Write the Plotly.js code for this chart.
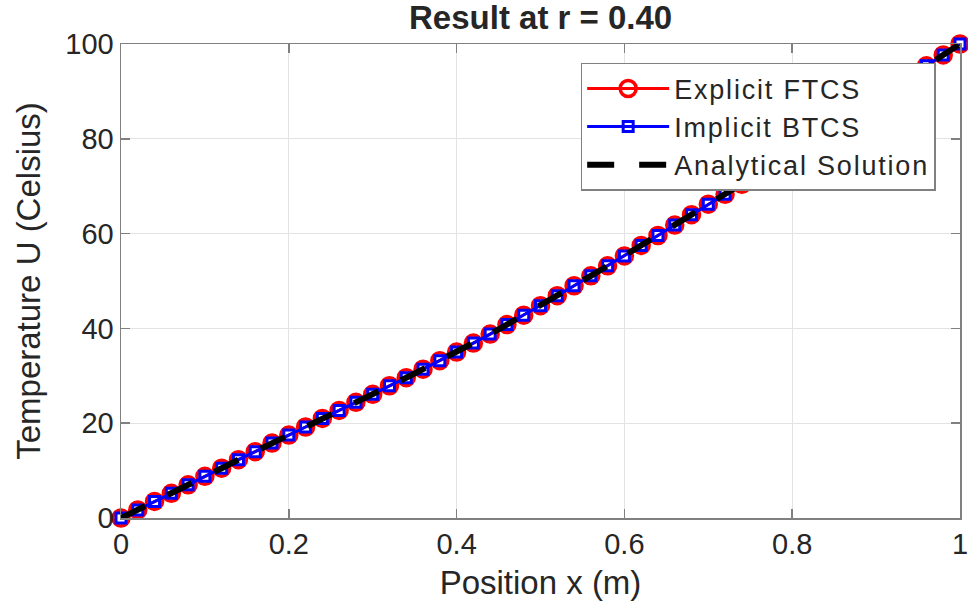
<!DOCTYPE html>
<html>
<head>
<meta charset="utf-8">
<script src="https://cdn.plot.ly/plotly-3.0.1.min.js"></script>
<style>html,body{margin:0;padding:0;background:#fff;}#chart{width:968px;height:610px;}
.legendtext{letter-spacing:1.8px;}</style>
</head>
<body>
<div id="chart"></div>
<script>
// Positions (m)
const xPos = [0.00,0.02,0.04,0.06,0.08,0.10,0.12,0.14,0.16,0.18,0.20,0.22,0.24,0.26,0.28,0.30,0.32,0.34,0.36,0.38,0.40,0.42,0.44,0.46,0.48,0.50,0.52,0.54,0.56,0.58,0.60,0.62,0.64,0.66,0.68,0.70,0.72,0.74,0.76,0.78,0.80,0.82,0.84,0.86,0.88,0.90,0.92,0.94,0.96,0.98,1.00];
// Explicit FTCS temperatures
const uFTCS = [0.0,1.7,3.5,5.2,7.0,8.8,10.5,12.3,14.0,15.8,17.5,19.2,21.0,22.7,24.4,26.1,27.9,29.6,31.4,33.2,35.0,36.9,38.8,40.8,42.8,44.8,46.9,49.0,51.1,53.2,55.3,57.5,59.6,61.8,64.0,66.2,68.3,70.4,72.6,74.8,77.1,79.3,81.6,83.9,86.2,88.5,90.8,93.1,95.4,97.7,100.0];
// Implicit BTCS temperatures
const uBTCS = [0.0,1.7,3.5,5.2,7.0,8.8,10.5,12.3,14.0,15.8,17.5,19.2,21.0,22.7,24.4,26.1,27.9,29.6,31.4,33.2,35.0,36.9,38.8,40.8,42.8,44.8,46.9,49.0,51.1,53.2,55.3,57.5,59.6,61.8,64.0,66.2,68.3,70.4,72.6,74.8,77.1,79.3,81.6,83.9,86.2,88.5,90.8,93.1,95.4,97.7,100.0];
// Analytical solution
const uExact = [0.0,1.7,3.5,5.2,7.0,8.8,10.5,12.3,14.0,15.8,17.5,19.2,21.0,22.7,24.4,26.1,27.9,29.6,31.4,33.2,35.0,36.9,38.8,40.8,42.8,44.8,46.9,49.0,51.1,53.2,55.3,57.5,59.6,61.8,64.0,66.2,68.3,70.4,72.6,74.8,77.1,79.3,81.6,83.9,86.2,88.5,90.8,93.1,95.4,97.7,100.0];
const xTicks = [0,0.2,0.4,0.6,0.8,1];
const xTickText = ['0','0.2','0.4','0.6','0.8','1'];
const yTicks = [0,20,40,60,80,100];
const yTickText = ['0','20','40','60','80','100'];

const FONT = '"Liberation Sans", Arial, Helvetica, sans-serif';
const TXT = '#262626';

const traces = [
  {x: xPos, y: uFTCS, name: 'Explicit FTCS', type: 'scatter', mode: 'lines+markers', cliponaxis: false,
   line: {color: '#ff0000', width: 3},
   marker: {symbol: 'circle-open', size: 16, color: '#ff0000', line: {width: 3.5, color: '#ff0000'}}},
  {x: xPos, y: uBTCS, name: 'Implicit BTCS', type: 'scatter', mode: 'lines+markers', cliponaxis: false,
   line: {color: '#0000ff', width: 3},
   marker: {symbol: 'square-open', size: 10, color: '#0000ff', line: {width: 3, color: '#0000ff'}}},
  {x: xPos, y: uExact, name: 'Analytical Solution', type: 'scatter', mode: 'lines', cliponaxis: false,
   line: {color: '#000000', width: 6, dash: '27px,25px'}}
];

const layout = {
  width: 968, height: 610,
  margin: {l: 121, r: 8, t: 44, b: 92, pad: 0},
  paper_bgcolor: '#ffffff', plot_bgcolor: '#ffffff',
  font: {family: FONT, color: TXT, size: 29},
  title: {text: '<b>Result at r = 0.40</b>', font: {family: FONT, size: 33, color: TXT},
          x: 0.5585, xanchor: 'center', y: 0.972, yanchor: 'middle'},
  xaxis: {
    range: [0, 1], tickmode: 'array', tickvals: xTicks, ticktext: xTickText,
    showgrid: true, gridcolor: '#e3e3e3', gridwidth: 1,
    zeroline: false, showline: true, linecolor: '#808080', linewidth: 1.5, mirror: 'ticks',
    ticks: 'inside', ticklen: 9, tickcolor: '#808080', tickwidth: 1.5,
    ticklabeloverflow: 'allow',
    tickfont: {family: FONT, size: 29, color: TXT},
    title: {text: 'Position x (m)', font: {family: FONT, size: 33, color: TXT}, standoff: 11}
  },
  yaxis: {
    range: [0, 100], tickmode: 'array', tickvals: yTicks, ticktext: yTickText,
    showgrid: true, gridcolor: '#e3e3e3', gridwidth: 1,
    zeroline: false, showline: true, linecolor: '#808080', linewidth: 1.5, mirror: 'ticks',
    ticks: 'inside', ticklen: 9, tickcolor: '#808080', tickwidth: 1.5,
    ticklabeloverflow: 'allow',
    tickfont: {family: FONT, size: 29, color: TXT},
    title: {text: 'Temperature U (Celsius)', font: {family: FONT, size: 33, color: TXT}, standoff: 15}
  },
  showlegend: true,
  legend: {
    x: 0.971, xanchor: 'right', y: 0.96, yanchor: 'top',
    bgcolor: '#ffffff', bordercolor: '#808080', borderwidth: 1.5,
    font: {family: FONT, size: 27, color: TXT},
    itemwidth: 82, tracegroupgap: 0
  }
};

Plotly.newPlot('chart', traces, layout, {displayModeBar: false, staticPlot: true});
</script>
</body>
</html>
